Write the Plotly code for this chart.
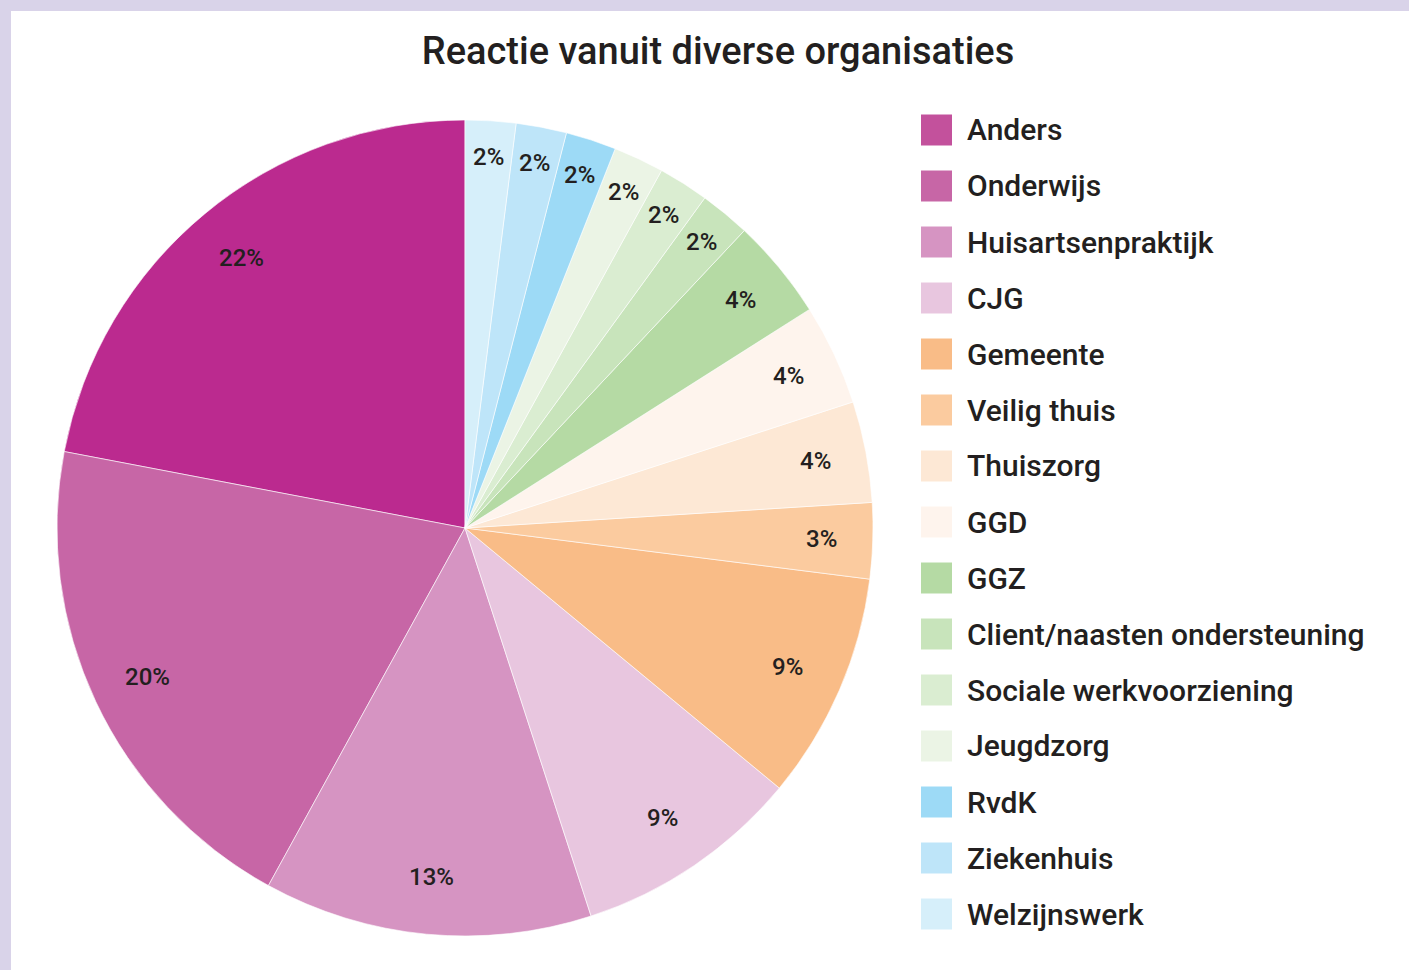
import math
import plotly.graph_objects as go

W, H = 1409, 970

labels = ["Anders", "Onderwijs", "Huisartsenpraktijk", "CJG", "Gemeente", "Veilig thuis",
          "Thuiszorg", "GGD", "GGZ", "Client/naasten ondersteuning",
          "Sociale werkvoorziening", "Jeugdzorg", "RvdK", "Ziekenhuis", "Welzijnswerk"]
values = [22, 20, 13, 9, 9, 3, 4, 4, 4, 2, 2, 2, 2, 2, 2]
colors = ["#BB2A8F", "#C766A6", "#D694C2", "#E8C6DF", "#F9BC87", "#FBCB9F",
          "#FDE8D5", "#FEF4ED", "#B5DAA4", "#C8E4BB", "#DAEDD1", "#EBF4E5",
          "#9DDAF6", "#BEE5F9", "#D6EFFA"]
legend_colors = ["#C3519C"] + colors[1:]

title_text = "Reactie vanuit diverse organisaties"

# pie geometry (pixels)
cx, cy, R = 465, 528, 408
TXT = "#231F20"
total = sum(values)

# Plotly draws the first slice clockwise from the rotation angle even in
# counterclockwise mode; rotate back so the first slice starts at 12 o'clock
# and runs counterclockwise like the reference.
rotation = -values[0] / total * 360

fig = go.Figure(go.Pie(
    labels=labels,
    values=values,
    marker=dict(colors=colors, line=dict(color="white", width=0.6)),
    sort=False,
    direction="counterclockwise",
    rotation=rotation,
    textinfo="none",
    domain=dict(x=[(cx - R) / W, (cx + R) / W], y=[(H - cy - R) / H, (H - cy + R) / H]),
    showlegend=False,
    hoverinfo="label+percent",
))

shapes = [
    dict(type="rect", xref="paper", yref="paper", x0=11 / W, x1=1, y0=0, y1=(H - 11) / H,
         fillcolor="white", line=dict(width=0), layer="below"),
]
annotations = []

# percentage labels placed along each slice's mid-angle (counter-clockwise from 12 o'clock)
cum = 0.0
for v in values:
    mid = (cum + v / 2) / total * 2 * math.pi
    cum += v
    frac = 0.91 if v <= 2 else (0.875 if v <= 4 else 0.86)
    px = cx - math.sin(mid) * R * frac
    py = cy - math.cos(mid) * R * frac
    annotations.append(dict(text=f"{round(v / total * 100)}%", xref="paper", yref="paper",
                            x=px / W, y=(H - py) / H, xanchor="center", yanchor="middle",
                            showarrow=False,
                            font=dict(family="Roboto", size=24, color=TXT, weight=500)))

# legend
x_sq0, x_sq1, x_txt = 921, 952, 965
y_first, step, half = 130, 56, 15.5
for i, (lab, col) in enumerate(zip(labels, legend_colors)):
    yc = y_first + i * step
    shapes.append(dict(type="rect", xref="paper", yref="paper",
                       x0=x_sq0 / W, x1=x_sq1 / W,
                       y0=(H - yc - half) / H, y1=(H - yc + half) / H,
                       fillcolor=col, line=dict(width=0)))
    annotations.append(dict(text=lab, xref="paper", yref="paper", x=x_txt / W, y=(H - yc) / H,
                            xanchor="left", yanchor="middle", showarrow=False,
                            font=dict(family="Roboto", size=30, color=TXT, weight=500)))

fig.update_layout(
    width=W, height=H,
    margin=dict(l=0, r=0, t=0, b=0),
    paper_bgcolor="#D9D3E9",
    plot_bgcolor="white",
    title=dict(text=title_text, x=718 / W, xanchor="center", y=1 - 51 / H, yanchor="middle",
               font=dict(family="Roboto", size=38, color=TXT, weight=500)),
    shapes=shapes,
    annotations=annotations,
)

fig.write_html("out.html", config={"displayModeBar": False},
               post_script="document.body.style.margin='0';")
